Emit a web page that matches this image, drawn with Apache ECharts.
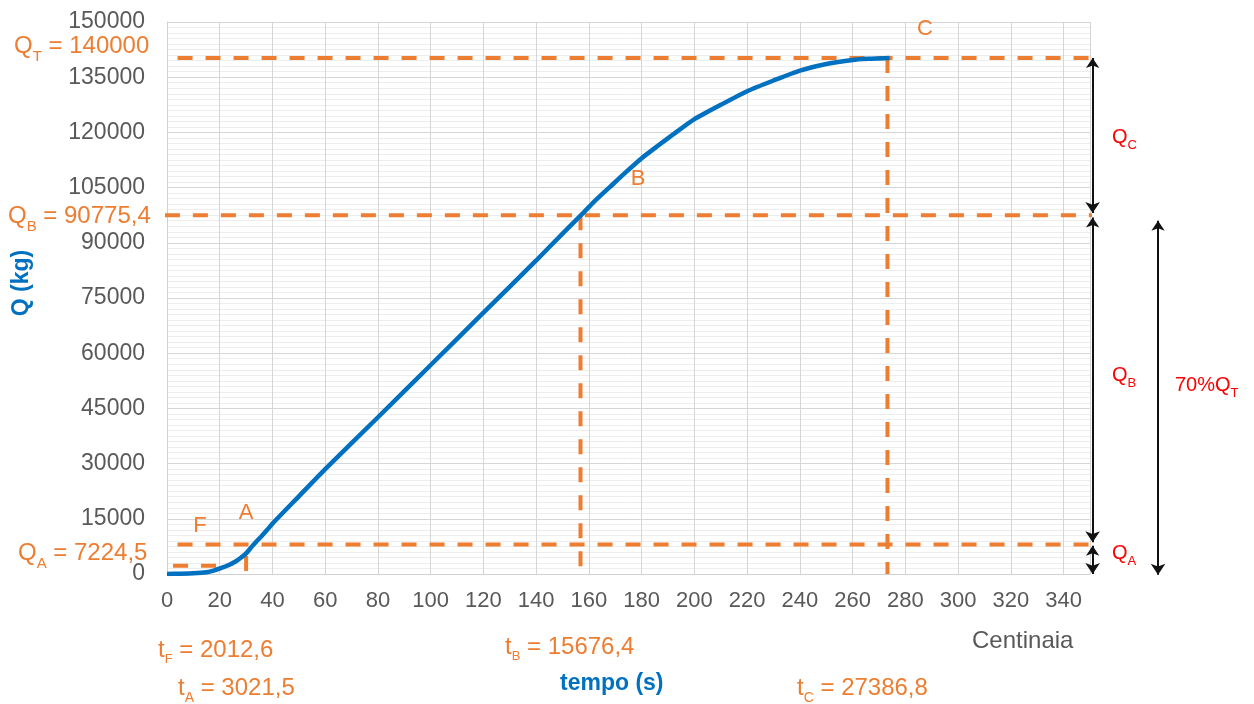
<!DOCTYPE html>
<html>
<head>
<meta charset="utf-8">
<script src="https://cdn.jsdelivr.net/npm/echarts@6/dist/echarts.min.js"></script>
<style>
html,body{margin:0;padding:0;background:#fff;}
#c{width:1254px;height:704px;}
</style>
</head>
<body>
<div id="c"></div>
<script>
// ---- data (time in centinaia di secondi, Q in kg) ----
var tempo = [0,5,10,15,18,20,23,26,28,30,32,34,36,38,40,50,60,80,100,120,140,150,157,162,168,174,180,186,192,200,210,220,230,240,250,260,266,270,274];
var portata = [0,80,200,500,1000,1500,2300,3400,4400,5600,7300,8900,10400,12000,13700,21100,28500,42600,56800,71000,85200,92500,97500,101200,105200,109200,113000,116300,119500,123600,127500,131200,134100,136800,138600,139700,140000,140100,140200];

var QT = 140200, QB = 97500, QA = 8000, QF = 2260;
var tF = 19.5, tA = 30, tB = 156.8, tC = 273.2;
var xArrow1 = 351, xArrow2 = 375.8;
var qAcurve = 4900;

var xTicks = [0,20,40,60,80,100,120,140,160,180,200,220,240,260,280,300,320,340];
var yTicks = [0,15000,30000,45000,60000,75000,90000,105000,120000,135000,150000];

var curve = tempo.map(function(t,i){return [t, portata[i]];});

var ORANGE = '#ED7D31', RED = '#FF0000', BLUE = '#0070C0', GRAY = '#595959';

function dashed(name, pts){
  return {
    name: name, type: 'line', data: pts, clip: false, symbol: 'none', silent: true,
    z: 2, animation: false,
    lineStyle: {color: ORANGE, width: 4, type: [15,13], cap: 'butt'}
  };
}
function arrow(p1, p2){
  return {coords: [p1, p2]};
}

var chart = echarts.init(document.getElementById('c'), null, {renderer: 'canvas'});

function lab(parts, x, y, opts){
  opts = opts || {};
  var fs = opts.fs || 24, sfs = opts.sfs || 15, col = opts.color || ORANGE;
  return {
    type: 'text', x: x, y: y, silent: true, z: 100,
    style: {
      text: parts, textAlign: opts.align || 'left', textVerticalAlign: 'middle',
      fontFamily: 'Liberation Sans, Arial, sans-serif',
      rich: {
        m: {fontSize: fs, fill: col, color: col, lineHeight: fs + 4, verticalAlign: 'top', fontFamily: 'Liberation Sans, Arial, sans-serif'},
        s: {fontSize: sfs, fill: col, color: col, lineHeight: sfs, padding: [Math.round(fs*0.62),0,0,0], verticalAlign: 'top', fontFamily: 'Liberation Sans, Arial, sans-serif'}
      }
    }
  };
}

var option = {
  backgroundColor: '#fff',
  animation: false,
  textStyle: {fontFamily: 'Liberation Sans, Arial, sans-serif'},
  grid: {left: 167, right: 164, top: 22, bottom: 130, containLabel: false},
  xAxis: {
    type: 'value', min: 0, max: 350, interval: 20,
    axisLine: {show: true, lineStyle: {color: '#D0D0D0', width: 1}},
    axisTick: {show: false},
    axisLabel: {color: GRAY, fontSize: 22, margin: 16, showMaxLabel: false,
      formatter: function(v){ return xTicks.indexOf(v) >= 0 ? String(v) : ''; }},
    splitLine: {show: true, lineStyle: {color: '#D6D6D6', width: 1}}
  },
  yAxis: {
    type: 'value', min: 0, max: 150000, interval: 15000,
    axisLine: {show: true, lineStyle: {color: '#D0D0D0', width: 1}},
    axisTick: {show: false},
    axisLabel: {color: GRAY, fontSize: 23, margin: 22,
      formatter: function(v){ return yTicks.indexOf(v) >= 0 ? String(v) : ''; }},
    splitLine: {show: true, lineStyle: {color: '#D6D6D6', width: 1}},
    minorTick: {show: false, splitNumber: 10},
    minorSplitLine: {show: true, lineStyle: {color: '#EDEDED', width: 1}}
  },
  series: [
    dashed('QT', [[4, QT], [350, QT]]),
    dashed('QB', [[-0.8, QB], [xArrow2, QB]]),
    dashed('QA', [[4, QA], [350, QA]]),
    dashed('QF', [[2.3, QF], [tF, QF], [tF, 0]]),
    dashed('tA', [[tA, qAcurve], [tA, 0]]),
    dashed('tB', [[tB, QB], [tB, 0]]),
    dashed('tC', [[tC, QT], [tC, 0]]),
    {
      name: 'Q', type: 'line', data: curve, symbol: 'none', smooth: 0.2, z: 5,
      lineStyle: {color: BLUE, width: 4.5}, animation: false
    },
    {
      name: 'arrows', type: 'lines', coordinateSystem: 'cartesian2d', clip: false,
      polyline: false, silent: true, z: 6, animation: false,
      symbol: ['arrow', 'arrow'], symbolSize: [10, 11],
      lineStyle: {color: '#111111', width: 2, opacity: 1, curveness: 0},
      data: [
        arrow([xArrow1, QT], [xArrow1, QB + 600]),
        arrow([xArrow1, QB - 600], [xArrow1, QA + 600]),
        arrow([xArrow1, QA - 300], [xArrow1, 0]),
        arrow([xArrow2, QB - 1500], [xArrow2, -200])
      ]
    }
  ],
  graphic: [
    lab('{m|Q}{s|T}{m| = 140000}', 14, 48),
    lab('{m|Q}{s|B}{m| = 90775,4}', 8, 218),
    lab('{m|Q}{s|A}{m| = 7224,5}', 18, 555),
    lab('{m|F}', 200, 528, {align: 'center', fs: 22}),
    lab('{m|A}', 246, 515, {align: 'center', fs: 22}),
    lab('{m|B}', 638, 181, {align: 'center', fs: 22}),
    lab('{m|C}', 925, 31, {align: 'center', fs: 22}),
    lab('{m|t}{s|F}{m| = 2012,6}', 158, 652, {sfs: 13}),
    lab('{m|t}{s|A}{m| = 3021,5}', 178, 690, {sfs: 14}),
    lab('{m|t}{s|B}{m| = 15676,4}', 505, 649, {sfs: 13}),
    lab('{m|t}{s|C}{m| = 27386,8}', 797, 690, {sfs: 14}),
    lab('{m|Q}{s|C}', 1112, 139, {color: RED, fs: 20, sfs: 13}),
    lab('{m|Q}{s|B}', 1112, 377, {color: RED, fs: 20, sfs: 13}),
    lab('{m|Q}{s|A}', 1112, 555, {color: RED, fs: 20, sfs: 13}),
    lab('{m|70%Q}{s|T}', 1175, 387, {color: RED, fs: 20, sfs: 13}),
    {
      type: 'text', x: 560, y: 684, silent: true,
      style: {text: 'tempo (s)', fill: BLUE, font: 'bold 23px Liberation Sans, Arial, sans-serif',
        textAlign: 'left', textVerticalAlign: 'middle'}
    },
    {
      type: 'text', x: 972, y: 641, silent: true,
      style: {text: 'Centinaia', fill: GRAY, font: '24px Liberation Sans, Arial, sans-serif',
        textAlign: 'left', textVerticalAlign: 'middle'}
    },
    {
      type: 'text', x: 22, y: 283, rotation: Math.PI / 2, silent: true,
      style: {text: 'Q (kg)', fill: BLUE, font: 'bold 23px Liberation Sans, Arial, sans-serif',
        textAlign: 'center', textVerticalAlign: 'middle'}
    }
  ]
};
chart.setOption(option);
</script>
</body>
</html>
